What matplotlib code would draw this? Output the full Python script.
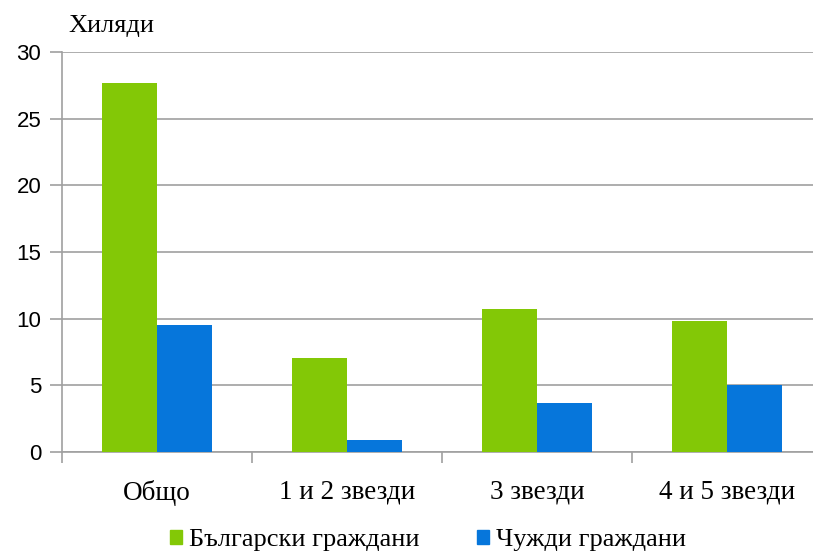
import numpy as np
from matplotlib import pyplot as plt
from matplotlib.patches import Patch

categories = ["Общо", "1 и 2 звезди", "3 звезди", "4 и 5 звезди"]
bulgarian = [27.7, 7.05, 10.7, 9.85]
foreign = [9.55, 0.93, 3.7, 5.05]
series_names = ["Български граждани", "Чужди граждани"]
colors = ["#83C806", "#0676DB"]
yticks = [0, 5, 10, 15, 20, 25, 30]

serif = ["Liberation Serif", "DejaVu Serif"]
sans = ["Liberation Sans", "DejaVu Sans"]

fig = plt.figure(figsize=(8.13, 5.52), dpi=100)
ax = fig.add_axes([62 / 813, 100 / 552, 760 / 813, 400 / 552])

x = np.arange(len(categories))
w = 0.287
ax.bar(x - w / 2, bulgarian, width=w, color=colors[0], zorder=3)
ax.bar(x + w / 2, foreign, width=w, color=colors[1], zorder=3)

ax.set_xlim(-0.5, len(categories) - 0.5)
ax.set_ylim(0, 30)
ax.set_yticks(yticks)
ax.set_yticklabels([str(v) for v in yticks], fontfamily=sans, fontsize=16)
ax.yaxis.grid(True, color="#a0a0a0", linewidth=1.2, zorder=0)
ax.tick_params(axis="y", length=9, color="#a0a0a0", width=1.2, pad=6)

# category labels between boundary ticks
ax.set_xticks(np.arange(len(categories) + 1) - 0.5)
ax.set_xticklabels([])
ax.set_xticks(x, minor=True)
ax.set_xticklabels(categories, minor=True, fontfamily=serif, fontsize=19.5)
ax.tick_params(axis="x", which="major", length=8, color="#a0a0a0", width=1.2)
ax.tick_params(axis="x", which="minor", length=0, pad=20)

for s in ["top", "right"]:
    ax.spines[s].set_visible(False)
for s in ["left", "bottom"]:
    ax.spines[s].set_color("#a0a0a0")
    ax.spines[s].set_linewidth(1.2)

fig.text(68 / 813, 1 - 26 / 552, "Хиляди", fontfamily=serif, fontsize=19, va="center", ha="left")

handles = [Patch(color=c, label=n) for c, n in zip(colors, series_names)]
fig.legend(handles=handles, loc="center", bbox_to_anchor=(428 / 813, 1 - 540 / 552), ncol=2,
           frameon=False, prop={"family": serif, "size": 19}, handlelength=0.45, handleheight=0.45,
           handletextpad=0.27, columnspacing=2.2)

fig.savefig("out.png", dpi=100)
